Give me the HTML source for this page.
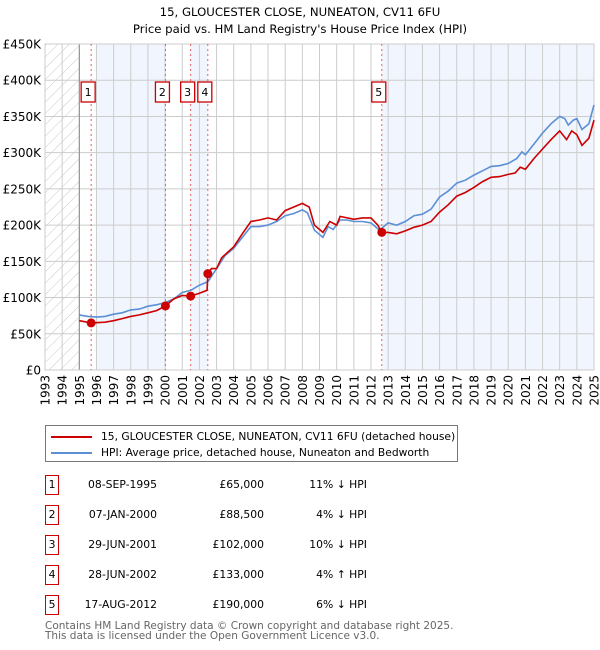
<!DOCTYPE html>
<html><head><meta charset="utf-8">
<style>
html,body{margin:0;padding:0;background:#fff;}
body{width:600px;height:650px;position:relative;font-family:"DejaVu Sans","Liberation Sans",sans-serif;color:#000;overflow:hidden;}
svg text{font-family:"DejaVu Sans","Liberation Sans",sans-serif;}
.row{position:absolute;left:0;width:600px;height:20px;font-size:10.8px;}
.row .num{position:absolute;left:45px;top:0;width:12px;height:18px;border:1.3px solid #cc0000;text-align:center;line-height:18px;}
.row .date{position:absolute;right:443px;top:3px;}
.row .price{position:absolute;right:336px;top:3px;}
.row .hpi{position:absolute;right:233px;top:3px;}
.foot{position:absolute;left:45px;font-size:10.5px;color:#666;}
</style></head><body>
<svg id="chart" width="600" height="420" style="position:absolute;left:0;top:0"></svg>

<div style="position:absolute;left:45px;top:425px;width:411px;height:35px;border:1px solid #777;font-size:10.7px;">
  <div style="position:absolute;left:5px;top:4px;white-space:nowrap;"><span style="display:inline-block;width:41px;height:2px;background:#cc0000;vertical-align:middle;margin-right:9px"></span>15, GLOUCESTER CLOSE, NUNEATON, CV11 6FU (detached house)</div>
  <div style="position:absolute;left:5px;top:20px;white-space:nowrap;"><span style="display:inline-block;width:41px;height:2px;background:#5b8fd6;vertical-align:middle;margin-right:9px"></span>HPI: Average price, detached house, Nuneaton and Bedworth</div>
</div>

<div class="row" style="top:475px"><div class="num">1</div><span class="date">08-SEP-1995</span><span class="price">£65,000</span><span class="hpi">11% ↓ HPI</span></div>
<div class="row" style="top:505px"><div class="num">2</div><span class="date">07-JAN-2000</span><span class="price">£88,500</span><span class="hpi">4% ↓ HPI</span></div>
<div class="row" style="top:535px"><div class="num">3</div><span class="date">29-JUN-2001</span><span class="price">£102,000</span><span class="hpi">10% ↓ HPI</span></div>
<div class="row" style="top:565px"><div class="num">4</div><span class="date">28-JUN-2002</span><span class="price">£133,000</span><span class="hpi">4% ↑ HPI</span></div>
<div class="row" style="top:595px"><div class="num">5</div><span class="date">17-AUG-2012</span><span class="price">£190,000</span><span class="hpi">6% ↓ HPI</span></div>

<div class="foot" style="top:620px">Contains HM Land Registry data © Crown copyright and database right 2025.</div>
<div class="foot" style="top:630px">This data is licensed under the Open Government Licence v3.0.</div>

<script>
const yTicks = [0,50000,100000,150000,200000,250000,300000,350000,400000,450000];
const yTickLabels = ["£0","£50K","£100K","£150K","£200K","£250K","£300K","£350K","£400K","£450K"];
const years = [1993,1994,1995,1996,1997,1998,1999,2000,2001,2002,2003,2004,2005,2006,2007,2008,2009,2010,2011,2012,2013,2014,2015,2016,2017,2018,2019,2020,2021,2022,2023,2024,2025];
const hpiDates = [1995.0,1995.5,1996,1996.5,1997,1997.5,1998,1998.5,1999,1999.5,2000,2000.5,2001,2001.5,2002,2002.5,2003,2003.5,2004,2004.5,2005,2005.5,2006,2006.5,2007,2007.5,2008,2008.3,2008.7,2009.2,2009.5,2009.8,2010.2,2010.6,2011,2011.5,2012,2012.5,2013,2013.5,2014,2014.5,2015,2015.5,2016,2016.5,2017,2017.5,2018,2018.5,2019,2019.5,2020,2020.5,2020.8,2021,2021.5,2022,2022.5,2023,2023.3,2023.5,2023.8,2024,2024.3,2024.7,2025];
const hpiValues = [76000,74000,73000,74000,77000,79000,83000,84000,88000,90000,93000,98000,107000,110000,117000,122000,140000,158000,168000,183000,198000,198000,200000,205000,213000,216000,221000,217000,193000,183000,198000,194000,207000,207000,205000,205000,203000,193000,203000,200000,205000,213000,215000,222000,239000,247000,258000,262000,269000,275000,281000,282000,285000,292000,301000,297000,312000,327000,340000,350000,347000,338000,345000,347000,332000,340000,366000];
const ppDates = [1995.0,1995.69,1996.5,1997,1997.5,1998,1998.5,1999,1999.5,2000.02,2000.5,2001,2001.49,2002,2002.45,2002.49,2002.7,2003,2003.3,2004,2004.5,2005,2005.5,2006,2006.5,2007,2007.5,2008,2008.4,2008.7,2009.2,2009.6,2010,2010.2,2011,2011.5,2012,2012.4,2012.63,2013,2013.5,2014,2014.5,2015,2015.5,2016,2016.5,2017,2017.5,2018,2018.5,2019,2019.5,2020,2020.4,2020.7,2021,2021.5,2022,2022.5,2023,2023.4,2023.7,2024,2024.3,2024.7,2025];
const ppValues = [68000,65000,66000,68000,71000,74000,76000,79000,82000,88500,98000,103000,102000,106000,110000,133000,140000,140000,155000,170000,188000,205000,207000,210000,207000,220000,225000,230000,225000,200000,190000,205000,200000,212000,208000,210000,210000,200000,190000,190000,188000,192000,197000,200000,205000,218000,228000,240000,245000,252000,260000,266000,267000,270000,272000,280000,277000,292000,305000,318000,330000,318000,330000,325000,310000,320000,345000];
const saleDates = [1995.69,2000.02,2001.49,2002.49,2012.63];
const salePrices = [65000,88500,102000,133000,190000];
const saleLabels = ["1","2","3","4","5"];
const shadeStarts = [1996.0,2001.49,2012.63];
const shadeEnds = [2000.02,2002.49,2025];

const X0=45,X1=594,Y0=370,Y1=44;
const xS = t => X0 + (t-1993)/(2025-1993)*(X1-X0);
const yS = v => Y0 - v/450000*(Y0-Y1);
const NS="http://www.w3.org/2000/svg";
const svg=document.getElementById('chart');
function mk(tag, attrs){const e=document.createElementNS(NS,tag);for(const k in attrs)e.setAttribute(k,attrs[k]);svg.appendChild(e);return e;}

let t=mk('text',{x:300,y:16,'text-anchor':'middle','font-size':11.7});t.textContent="15, GLOUCESTER CLOSE, NUNEATON, CV11 6FU";


t=mk('text',{x:300,y:33,'text-anchor':'middle','font-size':11.7});t.textContent="Price paid vs. HM Land Registry's House Price Index (HPI)";



const defs=mk('defs',{});
defs.innerHTML='<pattern id="hatch" width="8" height="8" patternUnits="userSpaceOnUse" patternTransform="rotate(45)"><line x1="0" y1="0" x2="0" y2="8" stroke="#bbb" stroke-width="0.8"/></pattern>';
let r=mk('rect',{x:X0,y:Y1,width:xS(1995)-X0,height:Y0-Y1,fill:'url(#hatch)'});



for(let i=0;i<shadeStarts.length;i++){
  const s=mk('rect',{x:xS(shadeStarts[i]),y:Y1,width:xS(shadeEnds[i])-xS(shadeStarts[i]),height:Y0-Y1,fill:'#eef3fc',opacity:0.8});
  
  
}
years.forEach(y=>{const g=mk('line',{x1:xS(y),x2:xS(y),y1:Y1,y2:Y0,stroke:'#cccccc','stroke-width':1});
  
  });
yTicks.forEach((v,i)=>{const g=mk('line',{x1:X0,x2:X1,y1:yS(v),y2:yS(v),stroke:'#cccccc','stroke-width':1});
  
  
  const l=mk('text',{x:X0-4,y:yS(v)+4.5,'text-anchor':'end','font-size':12});l.textContent=yTickLabels[i];
  
  });
years.forEach(y=>{const l=mk('text',{x:0,y:0,'text-anchor':'end','font-size':12,transform:`translate(${xS(y)+4.5},${Y0+5}) rotate(-90)`});l.textContent=y;
  
  });
let ax=mk('line',{x1:xS(1995),x2:xS(1995),y1:Y1,y2:Y0,stroke:'#888','stroke-width':1});


let fr=mk('rect',{x:X0,y:Y1,width:X1-X0,height:Y0-Y1,fill:'none',stroke:'#cccccc'});



saleDates.forEach((d,i)=>{const l=mk('line',{x1:xS(d),x2:xS(d),y1:Y1,y2:Y0,stroke:'#e06060','stroke-width':1,'stroke-dasharray':'2,3'});
  
  });

const path=(ds,vs)=>ds.map((d,i)=>(i?'L':'M')+xS(d).toFixed(1)+','+yS(vs[i]).toFixed(1)).join('');
let hp=mk('path',{d:path(hpiDates,hpiValues),fill:'none',stroke:'#5b8fd6','stroke-width':1.6});


let pp=mk('path',{d:path(ppDates,ppValues),fill:'none',stroke:'#cc0000','stroke-width':1.6});



saleDates.forEach((d,i)=>{
  const c=mk('circle',{cx:xS(d),cy:yS(salePrices[i]),r:4.5,fill:'#cc0000'});
  
  
  const b=mk('rect',{x:xS(d)-10,y:82,width:14,height:20,fill:'#fff',stroke:'#cc0000','stroke-width':1.3});
  
  
  const tx=mk('text',{x:xS(d)-3,y:96,'text-anchor':'middle','font-size':11});tx.textContent=saleLabels[i];
  
  
});
</script>
</body></html>
